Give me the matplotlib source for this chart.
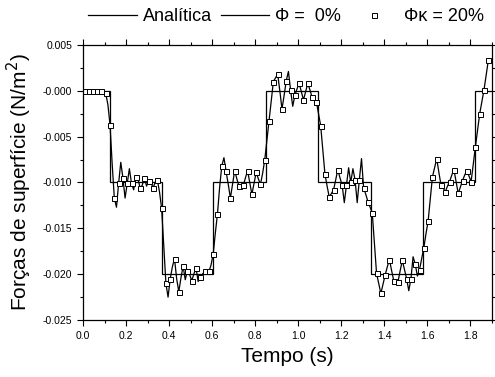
import numpy as np
import matplotlib
matplotlib.use("Agg")
import matplotlib.pyplot as plt
from matplotlib.ticker import MultipleLocator, FormatStrFormatter

plt.rcParams['font.family'] = ['Liberation Sans', 'DejaVu Sans']

# solucao analitica (degraus)
t_edges = [0.0, 0.124, 0.366, 0.606, 0.852, 1.094, 1.338, 1.58, 1.824, 1.9]
f_analitica = [0.0, -0.010, -0.020, -0.010, 0.0, -0.010, -0.020, -0.010, 0.0]

# Phi_k = 20% (quadrados), valores em 1e-3 N/m2, passo 0.02 s
t20 = np.arange(95) * 0.02 + 0.005
f20 = np.array([
    0, 0, 0, 0, 0, -0.3, -3.7, -11.7, -10.1, -9.5,
    -10.1, -10.1, -9.4, -10.6, -9.5, -9.8, -10.6, -9.7, -12.8, -21.0,
    -20.5, -18.3, -21.9, -19.1, -19.6, -20.7, -19.3, -20.3, -19.7, -19.7,
    -17.8, -13.4, -8.2, -8.8, -11.7, -8.7, -10.4, -10.3, -8.7, -11.3,
    -8.9, -10.2, -7.5, -3.3, 1.0, 1.8, -2.0, 1.1, 0.1, -0.5,
    0.8, -1.0, 0.8, -0.7, -1.2, -3.8, -9.1, -11.6, -10.8, -8.6,
    -10.3, -10.3, -10.0, -9.7, -9.7, -10.6, -12.1, -13.3, -19.9, -22.1,
    -20.1, -18.4, -20.7, -20.8, -18.5, -20.5, -20.5, -18.9, -19.5, -17.1,
    -14.2, -9.4, -7.4, -10.3, -11.0, -9.9, -8.6, -11.2, -9.8, -8.7,
    -9.9, -6.1, -2.5, 0.1, 3.3]) * 1e-3

# Phi = 0% : pontos intermediarios (entre os quadrados), em 1e-3
f0_meio = np.array([
    0, 0, 0, 0, -0.1, -1.5, -8.0, -12.7, -7.8, -11.7,
    -8.5, -10.8, -9.6, -10.3, -10.4, -9.9, -10.0, -11.0,
    -17.0, -22.5, -19.2, -20.5, -20.4, -20.6, -20.0, -20.0, -20.8, -20.0, -19.8, -19.0,
    -15.5, -10.5, -7.3, -10.2, -10.2, -9.6, -10.4, -9.5, -10.0, -10.1, -9.6, -9.0,
    -5.4, -1.2, 1.4, 0.0, -0.5, 2.1, -1.7, 0.2, -0.1, -0.1, 0.1, -0.9,
    -2.5, -6.5, -10.4, -11.2, -9.7, -9.5, -12.2, -8.4, -8.5, -12.2, -7.4, -11.3, -12.7,
    -16.6, -21.0, -21.1, -19.2, -19.6, -20.8, -19.6, -19.5, -21.8, -18.1, -20.2, -18.3,
    -15.6, -11.8, -8.4, -8.9, -10.6, -10.4, -9.2, -9.9, -10.5, -9.2, -9.3, -8.0,
    -4.3, -1.2, 1.7]) * 1e-3

t0 = np.arange(189) * 0.01 + 0.005
f0 = np.empty(189)
f0[0::2] = f20
f0[1::2] = f0_meio

fig = plt.figure(figsize=(4.95, 3.77), dpi=100)
ax = fig.add_axes([0.168, 0.151, 0.825, 0.730])

ax.stairs(f_analitica, t_edges, color='black', lw=0.9, label='Analítica', baseline=None)
ax.plot(t0, f0, color='black', lw=0.9, label='Φ =  0%')
ax.plot(t20, f20, 's', ms=3.6, mfc='white', mec='black', mew=0.7, label='Φκ = 20%')

ax.set_xlim(0, 1.9)
ax.set_ylim(-0.025, 0.005)
ax.xaxis.set_major_locator(MultipleLocator(0.2))
ax.xaxis.set_minor_locator(MultipleLocator(0.1))
ax.yaxis.set_major_locator(MultipleLocator(0.005))
ax.yaxis.set_minor_locator(MultipleLocator(0.0025))
ax.xaxis.set_major_formatter(FormatStrFormatter('%.1f'))
ax.yaxis.set_major_formatter(FormatStrFormatter('%.3f'))
ax.tick_params(which='both', direction='out', top=True, right=True, labelsize=7.5, width=0.8)
ax.tick_params(which='major', length=4.5)
ax.tick_params(which='minor', length=2.5)
for s in ax.spines.values():
    s.set_linewidth(0.9)

ax.set_xlabel('Tempo (s)', fontsize=15, labelpad=4)
ax.set_ylabel('Forças de superfície (N/m$^2$)', fontsize=15, labelpad=6)

leg = fig.legend(loc='center', bbox_to_anchor=(0.578, 0.955), ncol=3, frameon=False,
                 fontsize=13, handlelength=2.7, handletextpad=0.3, columnspacing=0.5,
                 borderpad=0)

fig.savefig('out.png', dpi=100)
